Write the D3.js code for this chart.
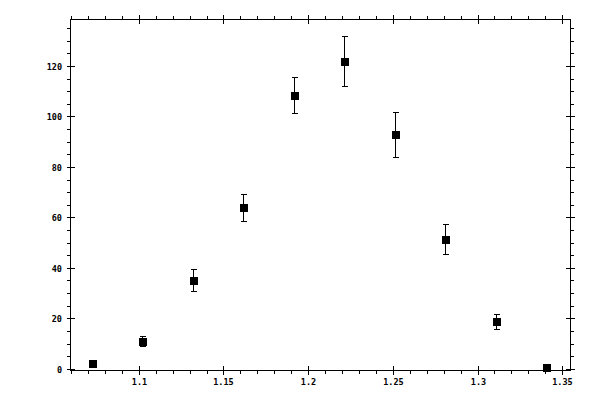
<!DOCTYPE html>
<html>
<head>
<meta charset="utf-8">
<title>Points with error bars</title>
<script src="https://d3js.org/d3.v7.min.js"></script>
<style type="text/css">
    body { margin: 0; background: #fff; }
    .frame { fill: none; stroke: #000; stroke-width: 1px; shape-rendering: crispEdges; }
    .tick { stroke: #000; stroke-width: 1px; shape-rendering: crispEdges; }
    .lbl { font-family: "DejaVu Sans Mono", monospace; font-size: 8.5px; font-weight: bold; fill: #000; }
    .err { stroke: #000; stroke-width: 1px; shape-rendering: crispEdges; }
</style>
</head>
<body>
<div id="chart"></div>
<script type="text/javascript">

    // data
    var xVals = [1.0724, 1.1022, 1.1320, 1.1618, 1.1916, 1.2214, 1.2512, 1.2810, 1.3108, 1.3406];
    var yVals = [2.2, 11.1, 35.1, 64.0, 108.4, 121.9, 92.9, 51.3, 18.8, 0.8];
    var yErrs = [0, 1.9, 4.4, 5.4, 7.1, 10.0, 9.0, 6.0, 3.0, 0];

    var xMajor = [1.1, 1.15, 1.2, 1.25, 1.3, 1.35],
        xLabels = ["1.1", "1.15", "1.2", "1.25", "1.3", "1.35"];
    var yMajor = [0, 20, 40, 60, 80, 100, 120],
        yLabels = ["0", "20", "40", "60", "80", "100", "120"];
    var xMinor = d3.range(106, 136).map(function(d) { return d / 100; });
    var yMinor = d3.range(0, 140, 5);

    var width = 600, height = 400;
    var pLeft = 70, pRight = 570, pTop = 19, pBottom = 370;

    var svg = d3.select("#chart").append("svg")
        .attr("width", width)
        .attr("height", height);

    var x = d3.scaleLinear().domain([1.0594, 1.3546]).range([pLeft, pRight]);
    var y = d3.scaleLinear().domain([-0.48, 138.6]).range([pBottom, pTop]);

    function px(v) { return Math.round(v) + 0.5; }

    svg.append("rect")
        .attr("class", "frame")
        .attr("x", pLeft + 0.5).attr("y", pTop + 0.5)
        .attr("width", pRight - pLeft).attr("height", pBottom - pTop);

    var g = svg.append("g");

    // minor ticks, outward on all four sides
    xMinor.forEach(function(v) {
        var xx = px(x(v));
        g.append("line").attr("class", "tick").attr("x1", xx).attr("x2", xx).attr("y1", pBottom).attr("y2", pBottom + 4);
        g.append("line").attr("class", "tick").attr("x1", xx).attr("x2", xx).attr("y1", pTop + 1).attr("y2", pTop - 3);
    });
    yMinor.forEach(function(v) {
        var yy = px(y(v));
        g.append("line").attr("class", "tick").attr("y1", yy).attr("y2", yy).attr("x1", pLeft + 1).attr("x2", pLeft - 3);
        g.append("line").attr("class", "tick").attr("y1", yy).attr("y2", yy).attr("x1", pRight).attr("x2", pRight + 4);
    });

    // major ticks cross the frame
    xMajor.forEach(function(v, i) {
        var xx = px(x(v));
        g.append("line").attr("class", "tick").attr("x1", xx).attr("x2", xx).attr("y1", pBottom - 4).attr("y2", pBottom + 5);
        g.append("line").attr("class", "tick").attr("x1", xx).attr("x2", xx).attr("y1", pTop - 4).attr("y2", pTop + 5);
        g.append("text").attr("class", "lbl")
            .attr("x", xx).attr("y", pBottom + 15)
            .attr("text-anchor", "middle")
            .text(xLabels[i]);
    });
    yMajor.forEach(function(v, i) {
        var yy = px(y(v));
        g.append("line").attr("class", "tick").attr("y1", yy).attr("y2", yy).attr("x1", pLeft - 3).attr("x2", pLeft + 5);
        g.append("line").attr("class", "tick").attr("y1", yy).attr("y2", yy).attr("x1", pRight - 4).attr("x2", pRight + 5);
        g.append("text").attr("class", "lbl")
            .attr("x", pLeft - 8).attr("y", yy + 3)
            .attr("text-anchor", "end")
            .text(yLabels[i]);
    });

    // error bars
    var pts = xVals.map(function(d, i) { return { x: d, y: yVals[i], e: yErrs[i] }; });

    var eb = svg.selectAll("g.eb")
        .data(pts.filter(function(d) { return d.e > 0; }))
        .enter().append("g").attr("class", "eb");
    eb.append("line").attr("class", "err")
        .attr("x1", function(d) { return px(x(d.x)); })
        .attr("x2", function(d) { return px(x(d.x)); })
        .attr("y1", function(d) { return Math.round(y(d.y - d.e)); })
        .attr("y2", function(d) { return Math.round(y(d.y + d.e)); });
    [-1, 1].forEach(function(s) {
        eb.append("line").attr("class", "err")
            .attr("x1", function(d) { return px(x(d.x)) - 2.5; })
            .attr("x2", function(d) { return px(x(d.x)) + 3.5; })
            .attr("y1", function(d) { return px(y(d.y + s * d.e)); })
            .attr("y2", function(d) { return px(y(d.y + s * d.e)); });
    });

    // square markers
    svg.selectAll("rect.pt")
        .data(pts)
        .enter().append("rect")
        .attr("class", "pt")
        .attr("x", function(d) { return Math.round(x(d.x)) - 3; })
        .attr("y", function(d) { return Math.round(y(d.y)) - 3; })
        .attr("width", 8).attr("height", 8)
        .style("fill", "#000");

</script>
</body>
</html>
